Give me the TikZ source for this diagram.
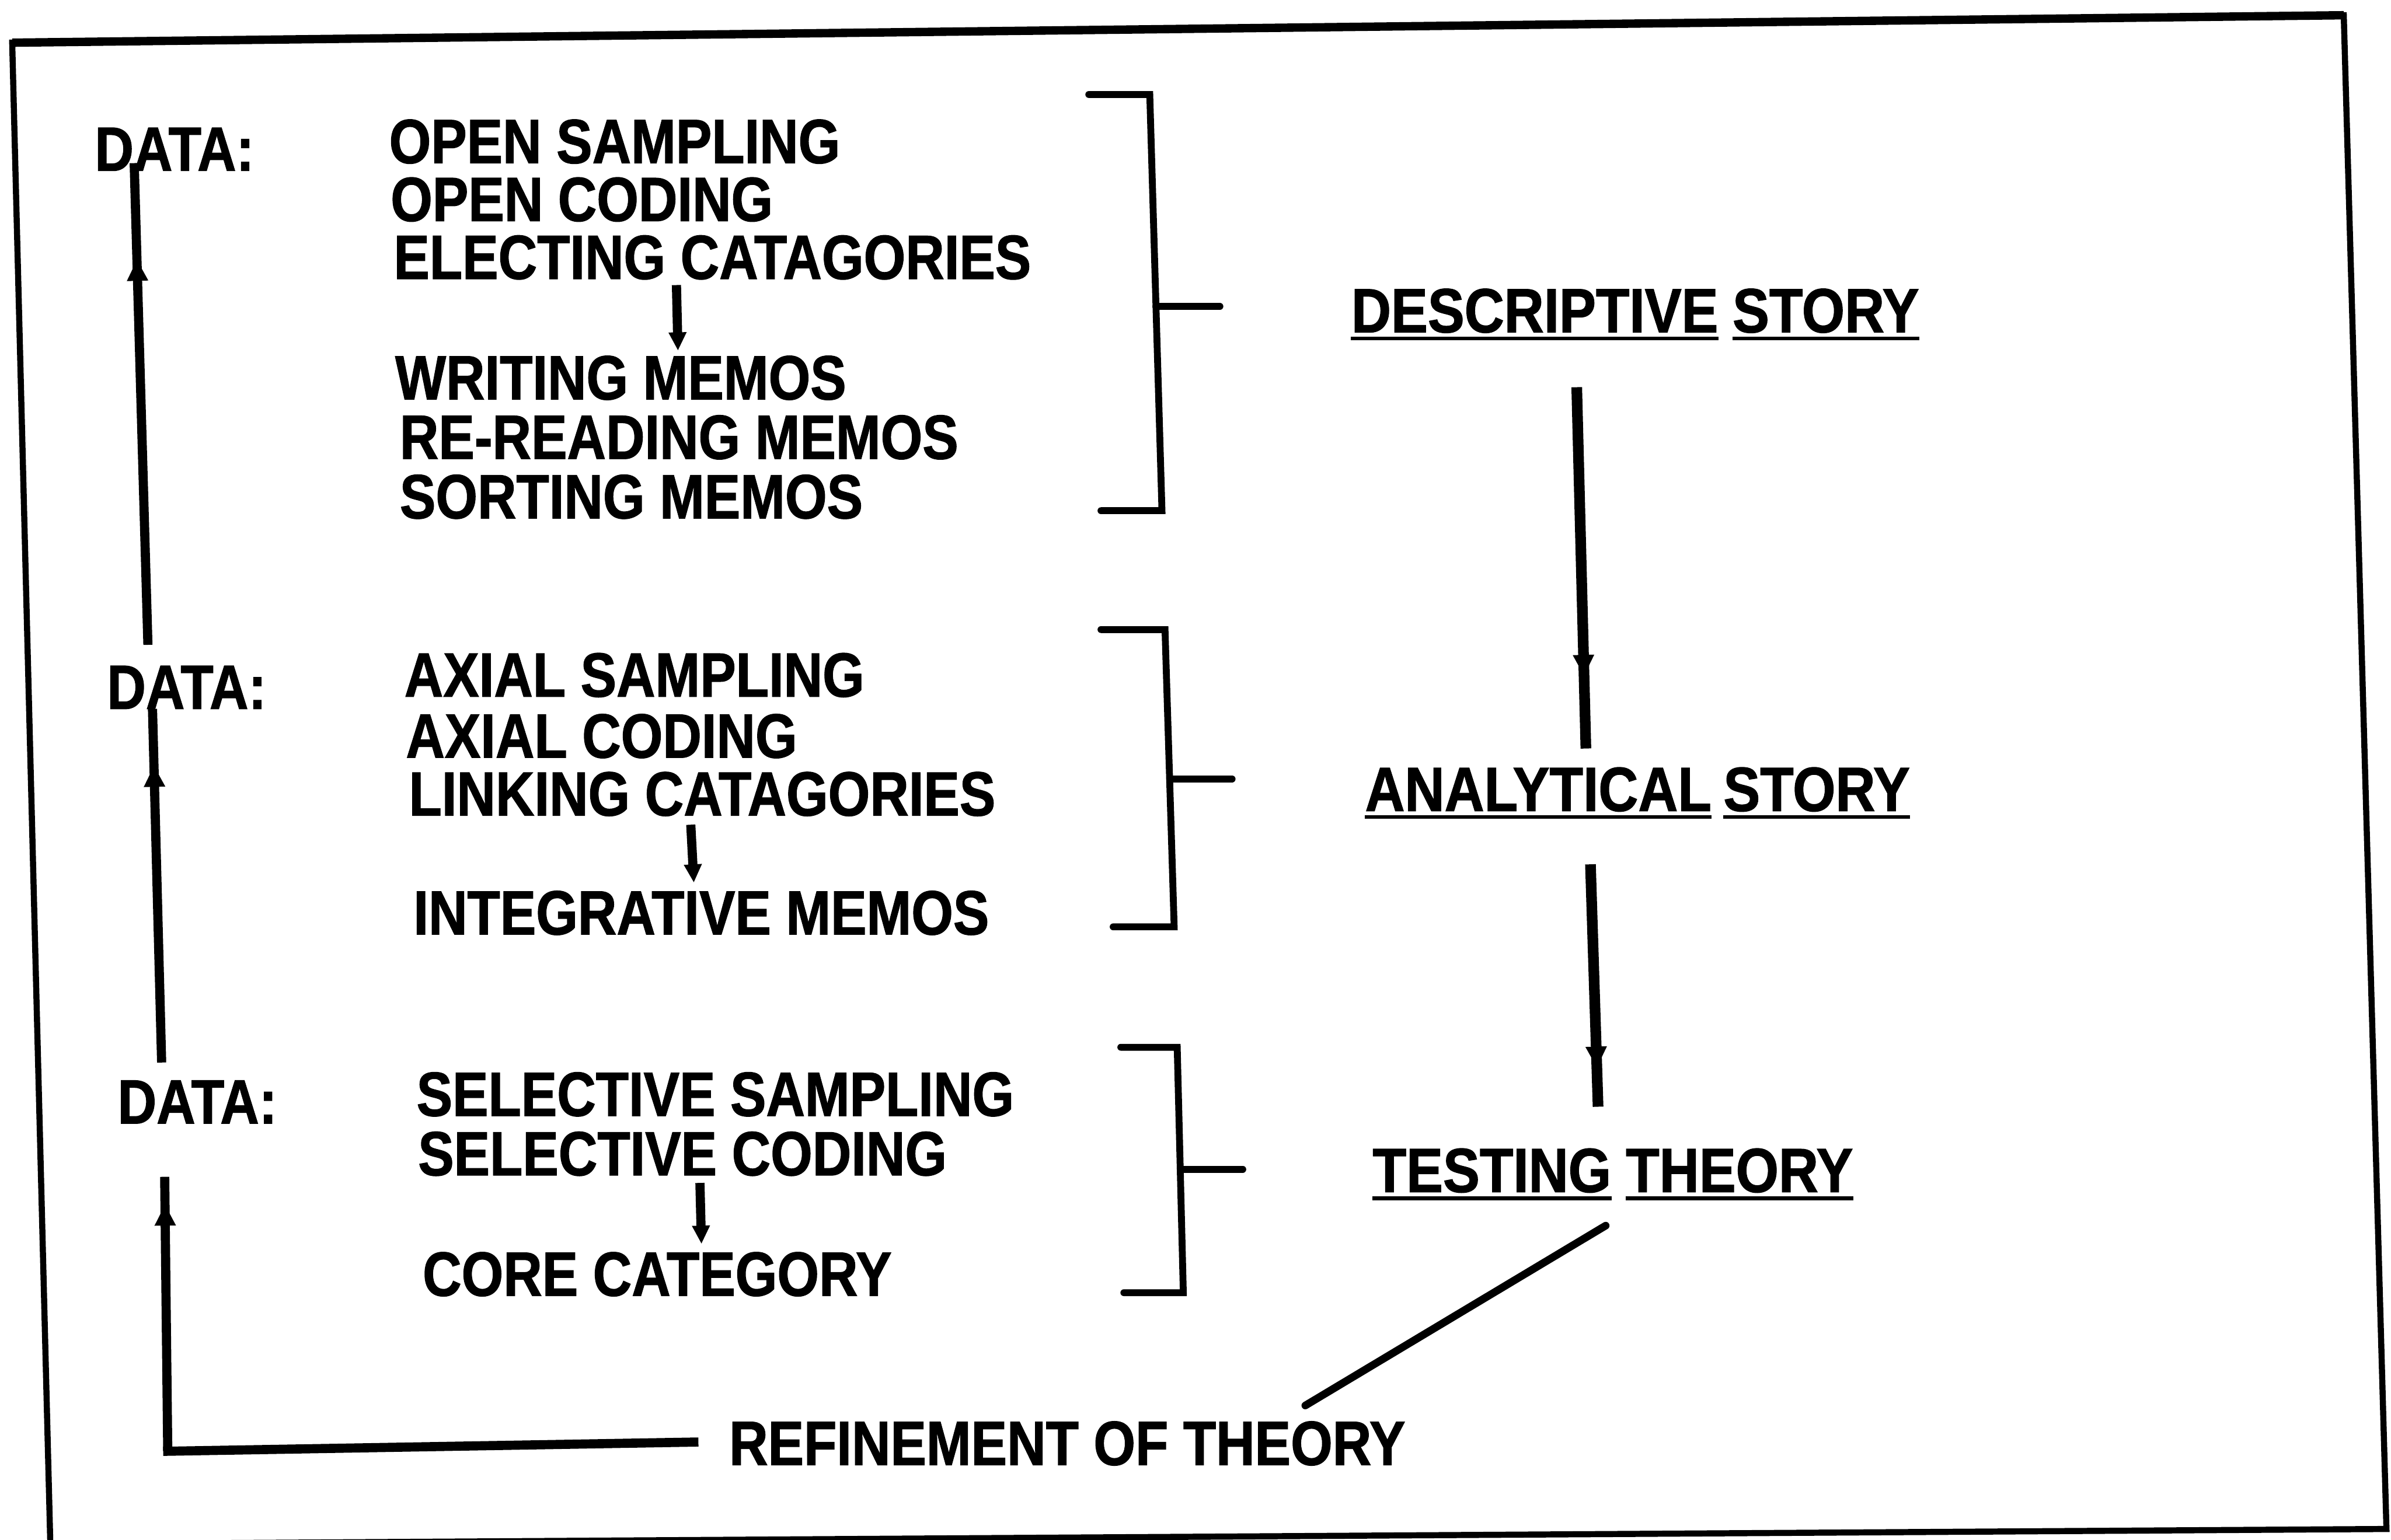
\documentclass[tikz,border=0pt]{standalone}
\usepackage{fontspec}
\setmainfont{Liberation Sans}[FakeStretch=0.86,FakeBold=1.2]
\newfontfamily\titlefont{Liberation Sans}[FakeStretch=0.88,FakeBold=1.2]
\usetikzlibrary{arrows.meta,decorations.markings}
\tikzset{
  lbl/.style={anchor=base west, inner sep=0pt, text height=26pt, text depth=0pt,
      font=\fontsize{41}{41}\selectfont\bfseries},
  ttl/.style={lbl, font=\fontsize{41}{41}\selectfont\titlefont\bfseries},
  brk/.style={line width=4.5pt, line cap=round, line join=miter},
  flow/.style={line width=6pt},
  ulx/.style={line width=2.5pt},
  frameline/.style={line width=4pt, line join=miter},
  midarrow/.style={postaction={decorate}, decoration={markings,
      mark=at position #1 with {\arrow{Triangle[width=13pt,length=14pt]}}}},
  smallarrow/.style={flow, -{Triangle[width=11pt,length=12pt]}}
}
\begin{document}
\begin{tikzpicture}[x=1pt,y=-1pt]
\useasboundingbox (0,0) rectangle (1568,1010);
\fill[white] (0,0) rectangle (1568,1010);

% frame
\draw[frameline] (33,1013) -- (8,28) -- (1537,10) -- (1565,1003) -- cycle;
\draw[line width=5.5pt] (8,28) -- (1537,10);

% block 1
\node[lbl] (d1) at (62,112) {DATA:};
\node[lbl] (t11) at (255,107) {OPEN SAMPLING};
\node[lbl] (t12) at (256,145) {OPEN CODING};
\node[lbl] (t13) at (258,183) {ELECTING CATAGORIES};
\node[lbl] (t14) at (259,262) {WRITING MEMOS};
\node[lbl] (t15) at (262,301) {RE-READING MEMOS};
\node[lbl] (t16) at (262,340) {SORTING MEMOS};

% block 2
\node[lbl] (d2) at (70,465) {DATA:};
\node[lbl] (t21) at (265,457) {AXIAL SAMPLING};
\node[lbl] (t22) at (266,497) {AXIAL CODING};
\node[lbl] (t23) at (268,535) {LINKING CATAGORIES};
\node[lbl] (t24) at (271,613) {INTEGRATIVE MEMOS};

% block 3
\node[lbl] (d3) at (77,737) {DATA:};
\node[lbl] (t31) at (273,732) {SELECTIVE SAMPLING};
\node[lbl] (t32) at (274,771) {SELECTIVE CODING};
\node[lbl] (t33) at (277,850) {CORE CATEGORY};

% right column
\node[ttl] (s1a) at (886,218) {DESCRIPTIVE};
\node[ttl] (s1b) at (1136,218) {STORY};
\node[ttl] (s2a) at (895,532) {ANALYTICAL};
\node[ttl] (s2b) at (1130,532) {STORY};
\node[ttl] (s3a) at (900,782) {TESTING};
\node[ttl] (s3b) at (1066,782) {THEORY};

\node[lbl] (ref) at (478,961) {REFINEMENT OF THEORY};

% underlines
\foreach \n in {s1a,s1b,s2a,s2b,s3a,s3b}
  \draw[ulx] ([yshift=-4pt]\n.base west) -- ([yshift=-4pt]\n.base east);

% small arrows
\coordinate (a1s) at (443.6,187); \coordinate (a1e) at (444.6,230);
\coordinate (a2s) at (453,541);   \coordinate (a2e) at (455,579);
\coordinate (a3s) at (459,776);   \coordinate (a3e) at (460,816);
\draw[smallarrow] (a1s) -- (a1e);
\draw[smallarrow] (a2s) -- (a2e);
\draw[smallarrow] (a3s) -- (a3e);

% brackets
\coordinate (b1t) at (714,62);  \coordinate (b1tc) at (754,62);
\coordinate (b1bc) at (762,335); \coordinate (b1b) at (722,335);
\coordinate (b1m) at (758,201); \coordinate (b1me) at (800,201);
\draw[brk] (b1t) -- (b1tc) -- (b1bc) -- (b1b);
\draw[brk] (b1m) -- (b1me);

\coordinate (b2t) at (722,413);  \coordinate (b2tc) at (764,413);
\coordinate (b2bc) at (770,608); \coordinate (b2b) at (730,608);
\coordinate (b2m) at (767,511); \coordinate (b2me) at (808,511);
\draw[brk] (b2t) -- (b2tc) -- (b2bc) -- (b2b);
\draw[brk] (b2m) -- (b2me);

\coordinate (b3t) at (735,687);  \coordinate (b3tc) at (772,687);
\coordinate (b3bc) at (776,848); \coordinate (b3b) at (737,848);
\coordinate (b3m) at (774,767); \coordinate (b3me) at (815,767);
\draw[brk] (b3t) -- (b3tc) -- (b3bc) -- (b3b);
\draw[brk] (b3m) -- (b3me);

% big arrows on the right
\coordinate (r1s) at (1034,254); \coordinate (r1e) at (1040,491);
\coordinate (r2s) at (1043,567); \coordinate (r2e) at (1048,726);
\draw[flow, line width=7pt, midarrow=0.80] (r1s) -- (r1e);
\draw[flow, line width=7pt, midarrow=0.84] (r2s) -- (r2e);

% left feedback lines
\coordinate (l1b) at (97,423);  \coordinate (l1t) at (88,107);
\coordinate (l2b) at (106,697); \coordinate (l2t) at (100,465);
\coordinate (l3c) at (110,952); \coordinate (l3t) at (108,772);
\coordinate (hend) at (455,946);
\draw[flow, midarrow=0.80] (l1b) -- (l1t);
\draw[flow, midarrow=0.84] (l2b) -- (l2t);
\draw[flow, midarrow=0.90] (l3c) -- (l3t);
\draw[flow, line cap=rect] (l3c) -- (hend);

% diagonal from testing theory to refinement
\coordinate (dgs) at (1053,804); \coordinate (dge) at (856,922);
\draw[line width=5pt, line cap=round] (dgs) -- (dge);
\end{tikzpicture}
\end{document}
